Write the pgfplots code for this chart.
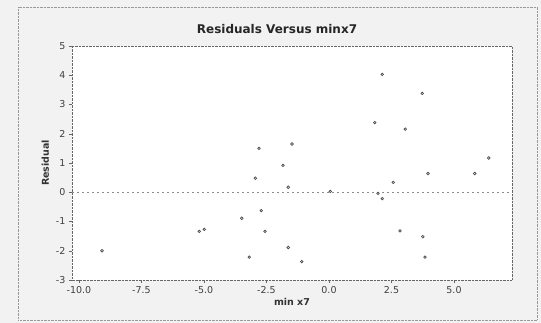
\documentclass[border=0pt]{standalone}
\usepackage{fontspec}
\setmainfont{DejaVu Sans}
\usepackage{pgfplots}
\pgfplotsset{compat=1.18}
\begin{document}
\begin{tikzpicture}[x=1pt,y=1pt]
\fill[gray!10] (0,0) rectangle (541,323);
\draw[gray!80, densely dotted] (18,3) rectangle (537,316);
\node[font=\bfseries\fontsize{12}{14}\selectfont, text=black!85] at (277,294) {Residuals Versus minx7};
\begin{axis}[
  at={(72pt,43pt)}, anchor=south west,
  width=440pt, height=234pt, scale only axis,
  xmin=-10.28, xmax=7.32, ymin=-3, ymax=5,
  axis background/.style={fill=white},
  axis line style={black!60, densely dotted},
  xtick={-10,-7.5,-5,-2.5,0,2.5,5},
  ytick={-3,-2,-1,0,1,2,3,4,5},
  xticklabel style={/pgf/number format/.cd, fixed, fixed zerofill, precision=1},
  /pgf/number format/assume math mode=true,
  tick label style={font=\fontsize{9.5}{11}\selectfont, text=black!75},
  tick align=outside, xtick pos=bottom, ytick pos=left,
  major tick length=3pt,
  tick style={black!60, thin},
  xlabel={min x7}, ylabel={Residual},
  label style={font=\bfseries\fontsize{9.5}{11}\selectfont, text=black!80},
  xlabel style={yshift=2pt},
  ylabel style={yshift=0pt},
  clip=false,
]
\addplot[black!45, densely dashed, dash pattern=on 2pt off 3pt, forget plot] coordinates {(-10.28,0) (7.32,0)};
\addplot[only marks, mark=o, mark size=1.3pt, mark options={black!70, line width=0.7pt}] coordinates {
(-9.08,-2.00)
(-5.19,-1.34) (-4.99,-1.27)
(-3.49,-0.89) (-3.19,-2.22)
(-2.95,0.48) (-2.80,1.50) (-2.71,-0.63) (-2.56,-1.34)
(-1.84,0.92) (-1.63,0.17) (-1.63,-1.89) (-1.48,1.65) (-1.09,-2.37)
(0.05,0.03)
(1.83,2.38) (1.96,-0.04) (2.13,4.03) (2.13,-0.22) (2.57,0.34)
(2.84,-1.32) (3.05,2.16) (3.73,3.38) (3.75,-1.52) (3.84,-2.22) (3.96,0.64)
(5.83,0.64) (6.39,1.17)
};
\end{axis}
\end{tikzpicture}
\end{document}
